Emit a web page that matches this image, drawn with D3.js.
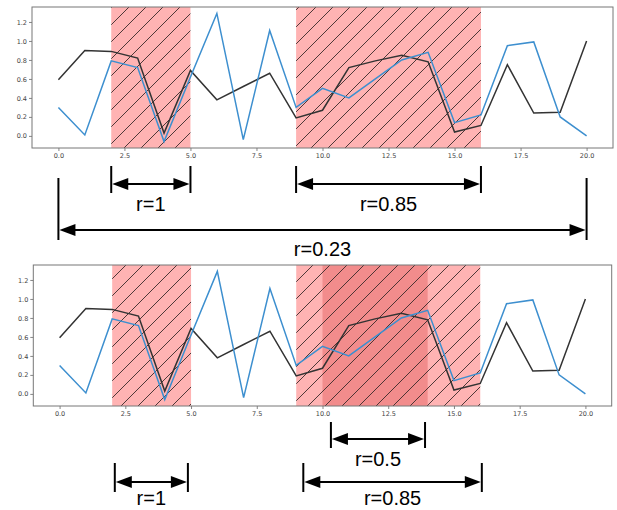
<!DOCTYPE html>
<html>
<head>
<meta charset="utf-8">
<script src="https://cdn.jsdelivr.net/npm/d3@7"></script>
<style>
  html, body { margin: 0; padding: 0; background: #fff; }
  svg { display: block; }
</style>
</head>
<body>
<svg id="chart" width="617" height="510"></svg>
<script>
// ---------- data ----------
const xs = d3.range(0, 21);
const blueSeries  = [0.30, 0.01, 0.79, 0.72, -0.06, 0.62, 1.29, -0.04, 1.11, 0.30, 0.50, 0.40, 0.60, 0.80, 0.88, 0.14, 0.22, 0.95, 0.99, 0.20, 0.00];
const blackSeries = [0.59, 0.90, 0.89, 0.82, 0.03, 0.69, 0.38, 0.52, 0.66, 0.19, 0.27, 0.72, 0.79, 0.85, 0.78, 0.04, 0.11, 0.75, 0.24, 0.25, 1.00];
const xTicks = [0, 2.5, 5, 7.5, 10, 12.5, 15, 17.5, 20];
const yTicks = [0.0, 0.2, 0.4, 0.6, 0.8, 1.0, 1.2];
const topSpans    = [[2, 5], [9, 16]];
const bottomSpans = [[2, 5], [9, 16]];
const bottomDarkSpans = [[10, 14]];
const topAnnotations = [
  { from: 2, to: 5, label: "r=1", row: 0 },
  { from: 9, to: 16, label: "r=0.85", row: 0 },
  { from: 0, to: 20, label: "r=0.23", row: 1 }
];
const bottomAnnotations = [
  { from: 10.32, to: 13.9, label: "r=0.5", row: 0 },
  { from: 2.1, to: 4.88, label: "r=1", row: 1 },
  { from: 9.27, to: 16.06, label: "r=0.85", row: 1 }
];

// ---------- setup ----------
const svg = d3.select("#chart");
const defs = svg.append("defs");

function hatchPattern(id, bg) {
  const s = 17;
  const p = defs.append("pattern")
    .attr("id", id).attr("patternUnits", "userSpaceOnUse")
    .attr("width", s).attr("height", s);
  p.append("rect").attr("width", s).attr("height", s).attr("fill", bg);
  p.append("path")
    .attr("d", `M-2,2 L2,-2 M0,${s} L${s},0 M${s - 2},${s + 2} L${s + 2},${s - 2}`)
    .attr("stroke", "#3a2a2a").attr("stroke-width", 0.9).attr("fill", "none");
}
hatchPattern("hatchLight", "#ffb3b3");
hatchPattern("hatchDark", "#f28c8c");

const yDomain = [-0.1275, 1.3575];
const xDomain = [-1, 21];

function drawPanel(cfg) {
  const x = d3.scaleLinear().domain(xDomain).range([cfg.left, cfg.right]);
  const y = d3.scaleLinear().domain(yDomain).range([cfg.bottom, cfg.top]);
  const g = svg.append("g");
  const clipId = "clip" + cfg.id;
  defs.append("clipPath").attr("id", clipId).append("rect")
    .attr("x", cfg.left).attr("y", cfg.top)
    .attr("width", cfg.right - cfg.left).attr("height", cfg.bottom - cfg.top);

  const plot = g.append("g").attr("clip-path", `url(#${clipId})`);

  plot.selectAll("rect.span").data(cfg.spans).enter().append("rect")
    .attr("class", "span")
    .attr("x", d => x(d[0])).attr("width", d => x(d[1]) - x(d[0]))
    .attr("y", cfg.top).attr("height", cfg.bottom - cfg.top)
    .attr("fill", "url(#hatchLight)");
  plot.selectAll("rect.dspan").data(cfg.darkSpans).enter().append("rect")
    .attr("class", "dspan")
    .attr("x", d => x(d[0])).attr("width", d => x(d[1]) - x(d[0]))
    .attr("y", cfg.top).attr("height", cfg.bottom - cfg.top)
    .attr("fill", "url(#hatchDark)");

  const line = d3.line().x((d, i) => x(xs[i])).y(d => y(d));
  plot.append("path").datum(blackSeries).attr("d", line)
    .attr("fill", "none").attr("stroke", "#333333").attr("stroke-width", 1.5);
  plot.append("path").datum(blueSeries).attr("d", line)
    .attr("fill", "none").attr("stroke", "#3d8fcf").attr("stroke-width", 1.5);

  // axes
  const xAxis = d3.axisBottom(x).tickValues(xTicks).tickFormat(d3.format(".1f"))
    .tickSize(3).tickPadding(2);
  const yAxis = d3.axisLeft(y).tickValues(yTicks).tickFormat(d3.format(".1f"))
    .tickSize(3).tickPadding(2);
  const gx = g.append("g").attr("transform", `translate(0,${cfg.bottom})`).call(xAxis);
  const gy = g.append("g").attr("transform", `translate(${cfg.left},0)`).call(yAxis);
  [gx, gy].forEach(a => {
    a.select(".domain").remove();
    a.selectAll(".tick line").attr("stroke", "#666").attr("stroke-width", 0.8);
    a.selectAll(".tick text").attr("fill", "#444")
      .style("font-family", "'DejaVu Sans', sans-serif").style("font-size", "6.5px");
  });

  g.append("rect")
    .attr("x", cfg.left).attr("y", cfg.top)
    .attr("width", cfg.right - cfg.left).attr("height", cfg.bottom - cfg.top)
    .attr("fill", "none").attr("stroke", "#777").attr("stroke-width", 1);

  // annotations
  const ann = svg.append("g");
  cfg.annotations.forEach(a => {
    const r = cfg.rows[a.row];
    const x0 = x(a.from), x1 = x(a.to);
    ann.append("line").attr("x1", x0).attr("x2", x0).attr("y1", r.vTop).attr("y2", r.vBot)
      .attr("stroke", "#000").attr("stroke-width", 2);
    ann.append("line").attr("x1", x1).attr("x2", x1).attr("y1", r.vTop).attr("y2", r.vBot)
      .attr("stroke", "#000").attr("stroke-width", 2);
    ann.append("line").attr("x1", x0 + 10).attr("x2", x1 - 10).attr("y1", r.ay).attr("y2", r.ay)
      .attr("stroke", "#000").attr("stroke-width", 2);
    const hl = 16, hw = 6;
    ann.append("path")
      .attr("d", `M${x0 + 1},${r.ay} L${x0 + 1 + hl},${r.ay - hw} L${x0 + 1 + hl},${r.ay + hw} Z`)
      .attr("fill", "#000");
    ann.append("path")
      .attr("d", `M${x1 - 1},${r.ay} L${x1 - 1 - hl},${r.ay - hw} L${x1 - 1 - hl},${r.ay + hw} Z`)
      .attr("fill", "#000");
    ann.append("text").attr("x", (x0 + x1) / 2).attr("y", r.ty)
      .attr("text-anchor", "middle")
      .style("font-family", "'Liberation Sans', Arial, sans-serif")
      .style("font-size", "20px").attr("fill", "#000")
      .text(a.label);
  });
}

drawPanel({
  id: "top", left: 32, right: 613, top: 7, bottom: 148,
  spans: topSpans, darkSpans: [],
  annotations: topAnnotations,
  rows: [
    { vTop: 166, vBot: 193, ay: 184, ty: 211 },
    { vTop: 178, vBot: 240, ay: 230, ty: 256 }
  ]
});

drawPanel({
  id: "bottom", left: 33.3, right: 611.7, top: 265, bottom: 406,
  spans: bottomSpans, darkSpans: bottomDarkSpans,
  annotations: bottomAnnotations,
  rows: [
    { vTop: 422, vBot: 448, ay: 439, ty: 466 },
    { vTop: 463, vBot: 492, ay: 482, ty: 505 }
  ]
});
</script>
</body>
</html>
